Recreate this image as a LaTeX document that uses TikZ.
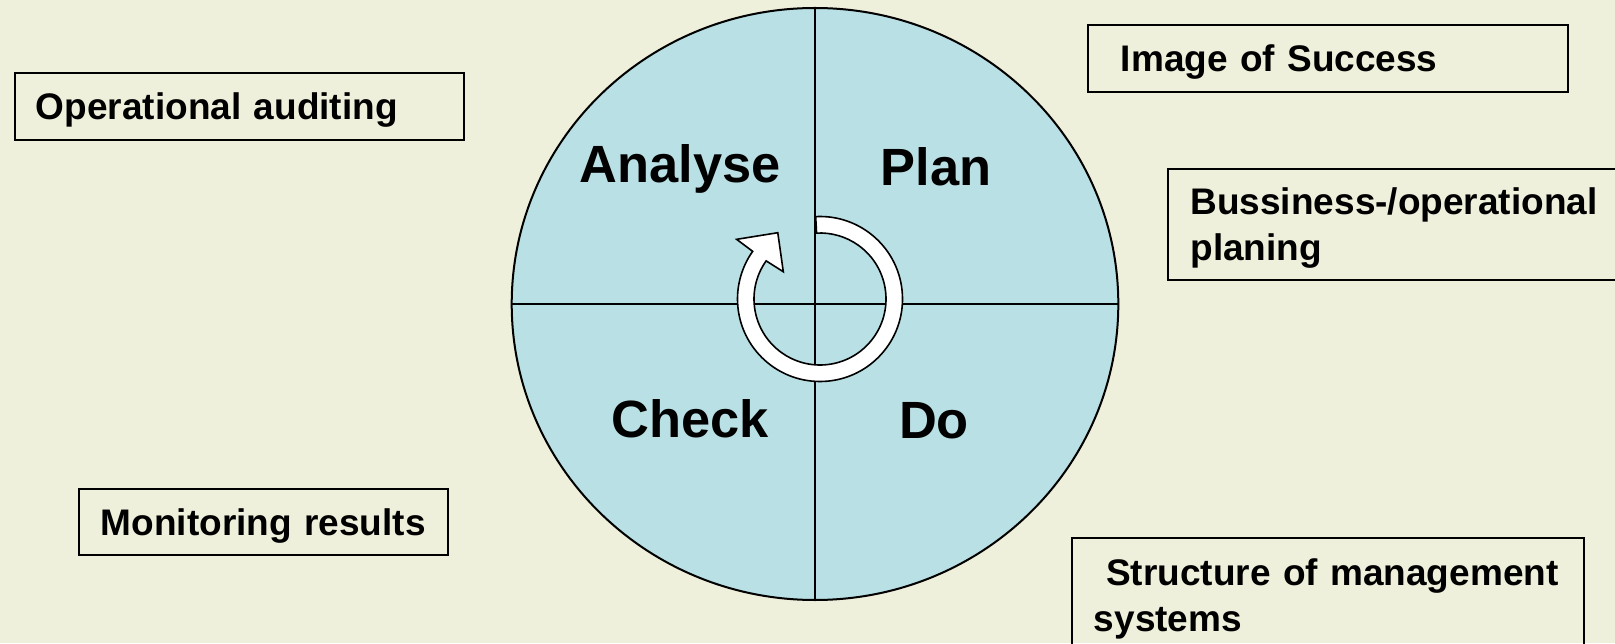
\documentclass[tikz,border=0pt]{standalone}
\usepackage{fontspec}
\setmainfont{Liberation Sans}
\usepackage{tikz}
\usetikzlibrary{shapes.geometric, positioning}
\definecolor{paper}{RGB}{239,240,219}
\definecolor{wheelblue}{RGB}{185,224,228}
\tikzset{
    stage/.style={
        font=\fontsize{26.2}{30}\selectfont\bfseries,
        text height=18.8pt,
        text depth=0pt,
        inner sep=0pt
    },
    note/.style={
        rectangle,
        draw=black,
        line width=0.9pt,
        anchor=north west,
        align=left,
        inner ysep=0pt,
        text height=13.2pt,
        text depth=0pt,
        font=\fontsize{18.5}{23}\selectfont\bfseries
    },
    divider/.style={
        draw=black,
        line width=1pt
    },
    turnarrow/.style={
        draw=black,
        line width=0.8pt,
        fill=white,
        line join=miter
    }
}
\begin{document}
\begin{tikzpicture}[x=0.5pt, y=0.5pt]

\useasboundingbox (0,0) rectangle (1615,643);
\clip (0,0) rectangle (1615,643);
\fill[paper] (0,0) rectangle (1615,643);

\node[ellipse, draw=black, line width=1pt, fill=wheelblue, minimum width=303.3pt, minimum height=296pt, inner sep=0pt, outer sep=0pt] (wheel) at (815,339) {};
\draw[divider] (wheel.north) -- (wheel.south);
\draw[divider] (wheel.west) -- (wheel.east);

% circular arrow in the middle
\begin{scope}[shift={(820,344)}]
\draw[turnarrow] (93:82.5) arc[start angle=93, end angle=-215.3, radius=82.5]
    -- (144.4:102.5) -- (122.5:78.6) -- (143.4:45.7)
    -- (144.7:66) arc[start angle=-215.3, end angle=93, radius=66] -- cycle;
\end{scope}

\node[stage] (analyse) at (680,479) {Analyse};
\node[stage] (plan) at (936,476) {Plan};
\node[stage] (check) at (690,224) {Check};
\node[stage] (do) at (934,223) {Do};

\node[note, minimum height=33.5pt, inner xsep=10.5pt, text width=203.5pt] (audit) at (14,571) {Operational auditing};
\node[note, minimum height=33pt, inner xsep=11pt, text width=162.5pt] (monitor) at (78,155) {Monitoring results};
\node[note, minimum height=33.5pt, inner xsep=16.5pt, text width=207pt] (success) at (1087,619) {Image of Success};
\node[note, minimum height=55.5pt, inner xsep=11.3pt, text width=240pt, text depth=23pt] (planning) at (1167,475) {Bussiness-/operational\\planing};
\node[note, inner xsep=11pt, inner ysep=10.5pt, text width=234pt, text depth=50pt] (structure) at (1071,106) {~Structure of management\\systems};

\end{tikzpicture}
\end{document}
